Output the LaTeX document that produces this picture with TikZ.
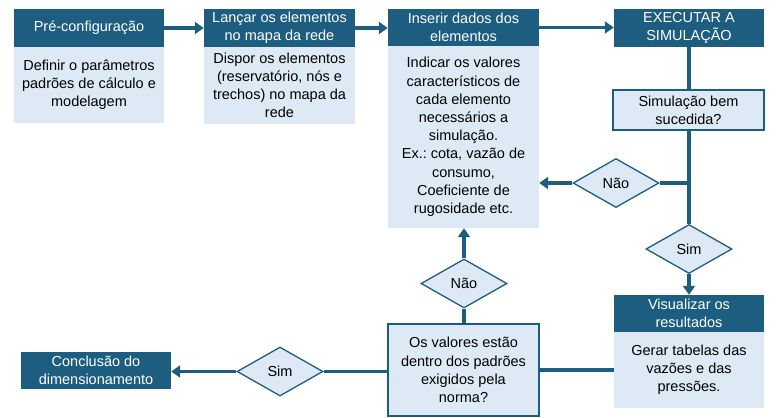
\documentclass[tikz,border=0pt]{standalone}
\usepackage{fontspec}
\setmainfont{Liberation Sans}
\usetikzlibrary{shapes.geometric,arrows.meta}
\definecolor{dk}{HTML}{1D5E80}
\definecolor{lt}{HTML}{DDEAF6}
\frenchspacing
\tikzset{
  base/.style={inner sep=0pt, align=center, font=\fontsize{14.5}{18.2}\selectfont},
  hdr/.style={base, fill=dk, text=white, minimum width=#1},
  hdr/.default=150pt,
  bodyb/.style={base, fill=lt, text=black},
  framed/.style={base, fill=lt, draw=dk, line width=2pt, text=black},
  dia/.style={base, diamond, fill=lt, draw=dk, line width=1.3pt, minimum width=86pt, minimum height=49pt, aspect=1.75},
  conn/.style={draw=dk, line width=3.2pt},
  arr/.style={conn, -{Triangle[width=12pt,length=9pt]}}
}
\begin{document}
\begin{tikzpicture}[x=1pt,y=-1pt]
\useasboundingbox (0,0) rectangle (780,418);
% top row
\node[hdr=150pt, minimum height=38pt] (b1h) at (89,28) {Pré-configuração};
\node[bodyb, minimum width=150pt, minimum height=76pt] (b1b) at (89,85) {Definir o parâmetros\\padrões de cálculo e\\modelagem};
\node[hdr=151pt, minimum height=38pt] (b2h) at (279.5,28) {Lançar os elementos\\no mapa da rede};
\node[bodyb, minimum width=151pt, minimum height=77pt] (b2b) at (279.5,85.5) {Dispor os elementos\\(reservatório, nós e\\trechos) no mapa da\\rede};
\node[hdr=151pt, minimum height=37pt] (b3h) at (463.5,27.5) {Inserir dados dos\\elementos};
\node[bodyb, minimum width=151pt, minimum height=182pt] (b3b) at (463.5,137) {Indicar os valores\\característicos de\\cada elemento\\necessários a\\simulação.\\Ex.: cota, vazão de\\consumo,\\Coeficiente de\\rugosidade etc.};
\node[hdr=150pt, minimum height=38pt] (ex) at (689,28) {EXECUTAR A\\SIMULAÇÃO};
\node[framed, minimum width=151pt, minimum height=40pt] (sb) at (688.5,110) {Simulação bem\\sucedida?};
% diamonds
\node[dia] (nao1) at (616,183) {Não};
\node[dia] (sim1) at (689,249) {Sim};
\node[dia] (nao2) at (464,283.5) {Não};
\node[dia] (sim2) at (280,371.5) {Sim};
% bottom row
\node[hdr=150pt, minimum height=37pt] (vh) at (689,313.5) {Visualizar os\\resultados};
\node[bodyb, minimum width=150pt, minimum height=76pt] (vb) at (689,370) {Gerar tabelas das\\vazões e das\\pressões.};
\node[framed, minimum width=151pt, minimum height=92pt] (nor) at (463.5,370) {Os valores estão\\dentro dos padrões\\exigidos pela\\norma?};
\node[hdr=150pt, minimum height=37pt] (con) at (96,370.5) {Conclusão do\\dimensionamento};
% connectors
\draw[arr] (b1h.east) -- (b2h.west);
\draw[arr] (b2h.east) -- (b3h.west |- b2h.east);
\draw[arr] (b3h.east) -- (ex.west |- b3h.east);
\draw[conn] (ex.south) -- (sb.north -| ex.south);
\draw[conn] (sb.south -| sim1.north) -- (sim1.north);
\draw[conn] (nao1.east) -- (nao1.east -| sim1.north);
\draw[arr] (nao1.west) -- (nao1.west -| b3b.east);
\draw[arr] (sim1.south) -- (vh.north -| sim1.south);
\draw[conn] (vb.west) -- (vb.west -| nor.east);
\draw[conn] (nor.north -| nao2.south) -- (nao2.south);
\draw[arr] (nao2.north) -- (b3b.south -| nao2.north);
\draw[conn] (nor.west |- sim2.east) -- (sim2.east);
\draw[arr] (sim2.west) -- (con.east |- sim2.west);
\end{tikzpicture}
\end{document}
